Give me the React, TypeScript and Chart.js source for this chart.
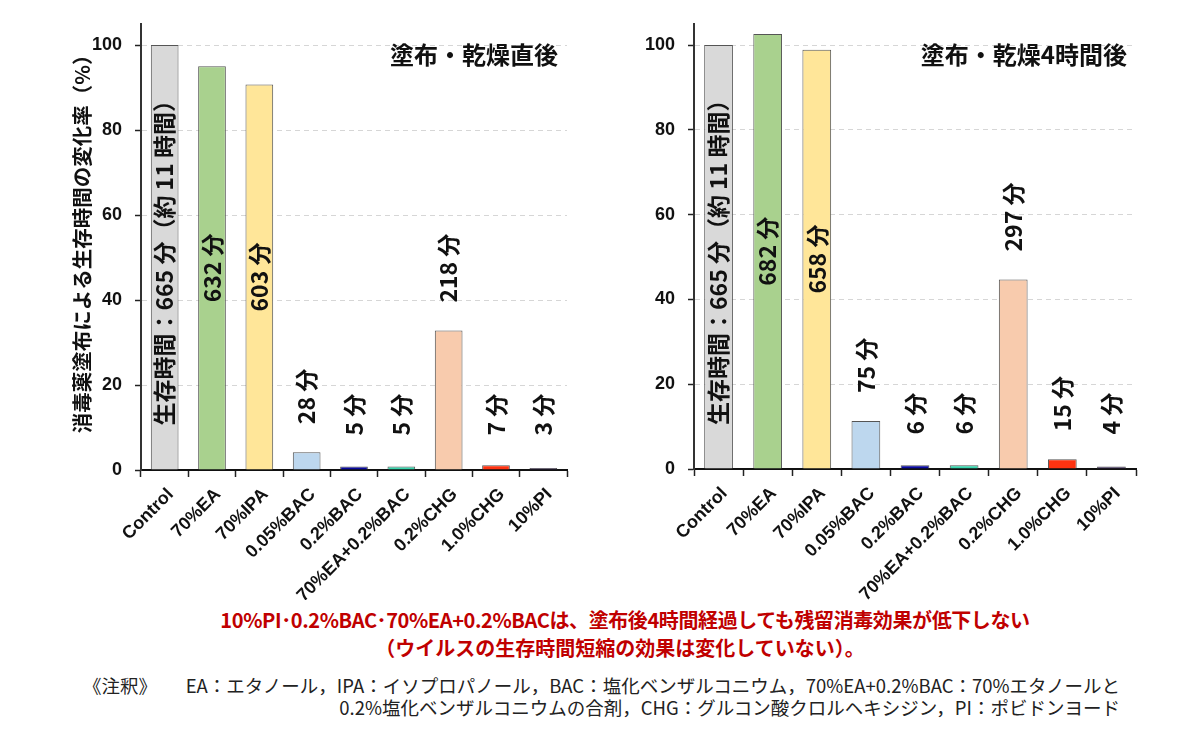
import React, { useEffect, useRef } from "react";
import { Chart, registerables } from "chart.js";

Chart.register(...registerables);

// ---------- data ----------
const categories = [
  "Control",
  "70%EA",
  "70%IPA",
  "0.05%BAC",
  "0.2%BAC",
  "70%EA+0.2%BAC",
  "0.2%CHG",
  "1.0%CHG",
  "10%PI",
];
// change rate of survival time (%), right after coating & drying
const afterDryingValues = [100, 95.0, 90.7, 4.2, 0.8, 0.8, 32.8, 1.1, 0.5];
// survival time (minutes), right after coating & drying
const afterDryingMinutes = [665, 632, 603, 28, 5, 5, 218, 7, 3];
// change rate of survival time (%), 4 hours after coating & drying
const after4hValues = [100, 102.6, 98.9, 11.3, 0.9, 0.9, 44.7, 2.3, 0.6];
// survival time (minutes), 4 hours after coating & drying
const after4hMinutes = [665, 682, 658, 75, 6, 6, 297, 15, 4];
const controlHours = 11;
const yTickValues = [0, 20, 40, 60, 80, 100];

const barColors = [
  "#d9d9d9",
  "#a9d18e",
  "#ffe699",
  "#bdd7ee",
  "#0a0aa0",
  "#3ad6ae",
  "#f8cbad",
  "#ff3311",
  "#3d2b5e",
];

const leftTitle = "塗布・乾燥直後";
const rightTitle = "塗布・乾燥4時間後";
const yAxisTitle = "消毒薬塗布による生存時間の変化率（%）";
const noteLine1 = "10%PI･0.2%BAC･70%EA+0.2%BACは、塗布後4時間経過しても残留消毒効果が低下しない";
const noteLine2 = "（ウイルスの生存時間短縮の効果は変化していない）。";
const footHead = "《注釈》";
const footLine1 =
  "EA：エタノール，IPA：イソプロパノール，BAC：塩化ベンザルコニウム，70%EA+0.2%BAC：70%エタノールと";
const footLine2 =
  "0.2%塩化ベンザルコニウムの合剤，CHG：グルコン酸クロルヘキシジン，PI：ポビドンヨード";

const JP = '"Noto Sans CJK JP", "Noto Sans", sans-serif';
const NARROW = '"Liberation Sans Narrow", "Liberation Sans", Arial, sans-serif';
const SANS = '"Liberation Sans", Arial, sans-serif';

// ---------- plugins ----------
const barLabelPlugin = {
  id: "barLabels",
  afterDatasetsDraw(chart: any, _args: any, opts: any) {
    const { ctx } = chart;
    const meta = chart.getDatasetMeta(0);
    const minutes: number[] = opts.minutes;
    const values: number[] = chart.data.datasets[0].data;
    ctx.save();
    ctx.font = `bold 23px ${JP}`;
    ctx.fillStyle = "#111";
    ctx.textAlign = "left";
    ctx.textBaseline = "middle";
    meta.data.forEach((bar: any, i: number) => {
      const { x, y, base } = bar.getProps(["x", "y", "base"], true);
      const text =
        i === 0
          ? `生存時間：${minutes[0]} 分（約 ${controlHours} 時間）`
          : `${minutes[i]} 分`;
      const w = ctx.measureText(text).width;
      let bottom: number;
      if (values[i] > 60) bottom = (y + base) / 2 + w / 2;
      else bottom = Math.min(y - 28, base - 34);
      ctx.save();
      ctx.translate(x, bottom);
      ctx.rotate(-Math.PI / 2);
      ctx.fillText(text, 0, 0);
      ctx.restore();
    });
    ctx.restore();
  },
};

const cornerTitlePlugin = {
  id: "cornerTitle",
  afterDraw(chart: any, _args: any, opts: any) {
    const { ctx, chartArea } = chart;
    ctx.save();
    ctx.font = `bold 24px ${JP}`;
    ctx.fillStyle = "#111";
    ctx.textAlign = "right";
    ctx.textBaseline = "middle";
    ctx.fillText(opts.text, chartArea.right - 9, chartArea.top + 31);
    if (opts.yTitle) {
      ctx.font = `bold 20.5px ${JP}`;
      ctx.textAlign = "center";
      ctx.translate(42, (chartArea.top + chartArea.bottom) / 2 - 8);
      ctx.rotate(-Math.PI / 2);
      ctx.fillText(opts.yTitle, 0, 0);
    }
    ctx.restore();
  },
};

function makeConfig(
  values: number[],
  minutes: number[],
  title: string,
  opt: { yWidth: number; xHeight: number; padTop: number; padRight: number; yTitle: string }
): any {
  return {
    type: "bar",
    data: {
      labels: categories,
      datasets: [
        {
          data: values,
          backgroundColor: barColors,
          borderColor: "#555555",
          borderWidth: 1,
          categoryPercentage: 1,
          barPercentage: 0.585,
        },
      ],
    },
    plugins: [barLabelPlugin, cornerTitlePlugin],
    options: {
      animation: false,
      responsive: false,
      devicePixelRatio: 1,
      layout: { padding: { top: opt.padTop, right: opt.padRight, left: 0, bottom: 0 } },
      plugins: {
        legend: { display: false },
        tooltip: { enabled: false },
        barLabels: { minutes },
        cornerTitle: { text: title, yTitle: opt.yTitle },
      },
      scales: {
        x: {
          offset: true,
          grid: {
            offset: true,
            drawOnChartArea: false,
            drawTicks: true,
            tickLength: 7,
            tickColor: "#222",
            tickWidth: 1.5,
          },
          border: { display: true, color: "#111", width: 2 },
          ticks: {
            maxRotation: 45,
            minRotation: 45,
            autoSkip: false,
            padding: 7,
            labelOffset: 6,
            color: "#111",
            font: { family: SANS, weight: "bold", size: 18 },
          },
          afterFit(scale: any) {
            scale.height = opt.xHeight;
          },
        },
        y: {
          min: 0,
          max: 105,
          afterBuildTicks(scale: any) {
            scale.ticks = yTickValues.map((v) => ({ value: v }));
          },
          grid: {
            color: (c: any) => (c.tick && c.tick.value === 0 ? "rgba(0,0,0,0)" : "#d6d6d6"),
            lineWidth: 1,
            drawTicks: true,
            tickLength: 6,
            tickColor: "#222",
            tickWidth: 1.5,
          },
          border: { display: true, color: "#333", width: 2, dash: [5, 4] },
          ticks: {
            padding: 13,
            color: "#111",
            font: { family: NARROW, weight: "bold", size: 18 },
          },
          title: { display: false },
          afterFit(scale: any) {
            scale.width = opt.yWidth;
          },
        },
      },
    },
  };
}

function BarChart(props: {
  values: number[];
  minutes: number[];
  title: string;
  width: number;
  height: number;
  left: number;
  yWidth: number;
  xHeight: number;
  padTop: number;
  padRight: number;
  yTitle: string;
}) {
  const ref = useRef<HTMLCanvasElement | null>(null);
  useEffect(() => {
    if (!ref.current) return;
    const chart = new Chart(
      ref.current,
      makeConfig(props.values, props.minutes, props.title, {
        yWidth: props.yWidth,
        xHeight: props.xHeight,
        padTop: props.padTop,
        padRight: props.padRight,
        yTitle: props.yTitle,
      })
    );
    return () => chart.destroy();
  }, []);
  return (
    <canvas
      ref={ref}
      width={props.width}
      height={props.height}
      style={{
        position: "absolute",
        left: props.left,
        top: 0,
        width: props.width,
        height: props.height,
      }}
    />
  );
}

const redStyle: any = {
  position: "absolute",
  width: 1000,
  textAlign: "center",
  fontFamily: JP,
  fontWeight: "bold",
  fontSize: 20,
  lineHeight: "24px",
  color: "#c00000",
  whiteSpace: "nowrap",
};

const footStyle: any = {
  position: "absolute",
  fontFamily: JP,
  fontSize: 18.5,
  lineHeight: "22px",
  color: "#222",
  whiteSpace: "nowrap",
};

export default function App() {
  return (
    <div
      style={{
        position: "absolute",
        left: 0,
        top: 0,
        width: 1200,
        height: 738,
        background: "#ffffff",
        overflow: "hidden",
      }}
    >
      <BarChart
        values={afterDryingValues}
        minutes={afterDryingMinutes}
        title={leftTitle}
        width={560}
        height={600}
        left={40}
        yWidth={101}
        xHeight={130}
        padTop={17}
        padRight={33}
        yTitle={yAxisTitle}
      />
      <BarChart
        values={after4hValues}
        minutes={after4hMinutes}
        title={rightTitle}
        width={540}
        height={600}
        left={620}
        yWidth={74}
        xHeight={131}
        padTop={20}
        padRight={24}
        yTitle=""
      />
      <div style={{ ...redStyle, left: 125, top: 608, letterSpacing: "-0.4px" }}>{noteLine1}</div>
      <div style={{ ...redStyle, left: 120, top: 636 }}>{noteLine2}</div>
      <div style={{ ...footStyle, left: 83, top: 674 }}>{footHead}</div>
      <div style={{ ...footStyle, right: 80, top: 674, textAlign: "right" }}>{footLine1}</div>
      <div style={{ ...footStyle, right: 80, top: 696, textAlign: "right" }}>{footLine2}</div>
    </div>
  );
}
